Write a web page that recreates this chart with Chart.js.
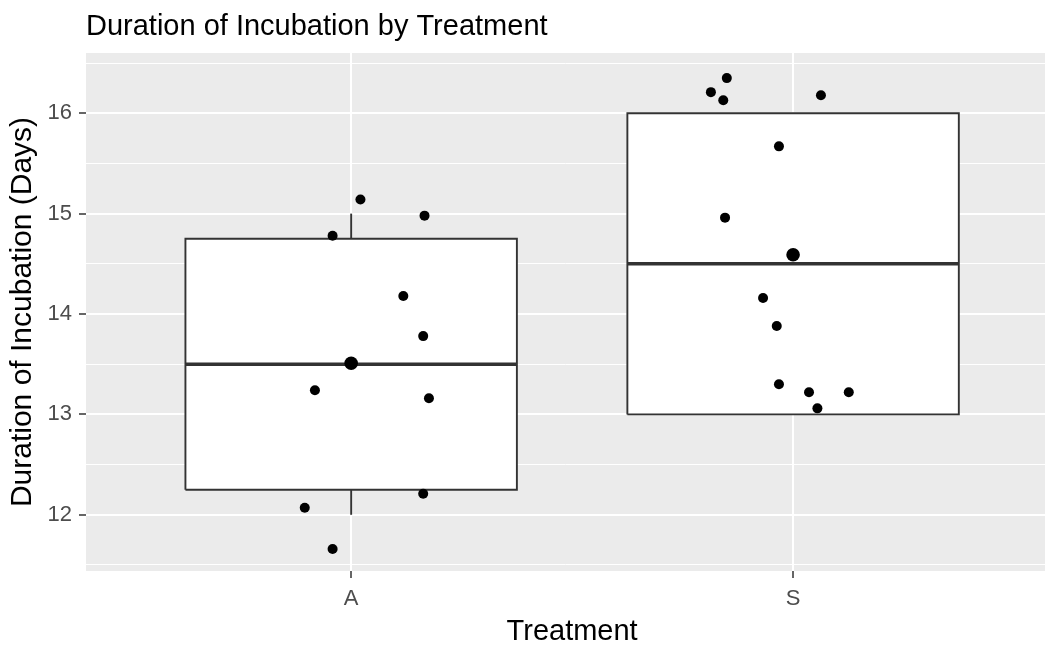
<!DOCTYPE html>
<html><head><meta charset="utf-8">
<script src="https://cdn.jsdelivr.net/npm/chart.js@4/dist/chart.umd.min.js"></script>
<style>html,body{margin:0;padding:0;background:#fff}#wrap{width:1045px;height:646px;position:relative}</style>
</head><body><div id="wrap"><canvas id="c"></canvas></div>
<script>
// ---- data ----
const chartTitle = 'Duration of Incubation by Treatment';
const xTitle = 'Treatment';
const yTitle = 'Duration of Incubation (Days)';
const categories = ['A', 'S'];
const whiskerLow  = [12, 13];
const q1          = [12.25, 13];
const medians     = [13.5, 14.5];
const q3          = [14.75, 16];
const whiskerHigh = [15, 16];
const means       = [13.51, 14.59];
const valuesA = [15.14, 14.98, 14.78, 14.18, 13.78, 13.24, 13.16, 12.21, 12.07, 11.66];
const jitterA = [0.021, 0.166, -0.042, 0.118, 0.163, -0.082, 0.176, 0.163, -0.105, -0.042];
const valuesS = [16.35, 16.21, 16.13, 16.18, 15.67, 14.96, 14.16, 13.88, 13.30, 13.22, 13.22, 13.06];
const jitterS = [-0.150, -0.186, -0.158, 0.063, -0.032, -0.154, -0.068, -0.037, -0.032, 0.036, 0.126, 0.055];
const yTicks = [12, 13, 14, 15, 16];
const yMinorTicks = [11.5, 12.5, 13.5, 14.5, 15.5, 16.5];

// ---- styling ----
const FONT = '"Liberation Sans", Arial, sans-serif';
const BOX_HALF = 0.375;
const INK = '#333333';
Chart.defaults.font.family = FONT;

const pos = i => i + 1;
const groups = [
  {values: valuesA, jitter: jitterA},
  {values: valuesS, jitter: jitterS}
];

const datasets = [];
const pts = [];
groups.forEach((g, i) => g.values.forEach((v, k) => pts.push({x: pos(i) + g.jitter[k], y: v})));
datasets.push({type: 'scatter', data: pts, backgroundColor: '#000', borderWidth: 0, pointRadius: 5, order: 0});
datasets.push({type: 'scatter', data: means.map((m, i) => ({x: pos(i), y: m})), backgroundColor: '#000', borderWidth: 0, pointRadius: 6.8, order: 0});
categories.forEach((c, i) => {
  datasets.push({type: 'line', data: [{x: pos(i) - BOX_HALF, y: medians[i]}, {x: pos(i) + BOX_HALF, y: medians[i]}],
    borderColor: INK, borderWidth: 3.6, pointRadius: 0, fill: false, order: 1});
});
categories.forEach((c, i) => {
  const l = pos(i) - BOX_HALF, r = pos(i) + BOX_HALF;
  datasets.push({type: 'line', data: [{x: l, y: q1[i]}, {x: r, y: q1[i]}, {x: r, y: q3[i]}, {x: l, y: q3[i]}, {x: l, y: q1[i]}],
    borderColor: INK, borderWidth: 1.9, backgroundColor: '#ffffff', fill: 'shape', pointRadius: 0, tension: 0, order: 2});
});
categories.forEach((c, i) => {
  if (whiskerHigh[i] > q3[i]) datasets.push({type: 'line', data: [{x: pos(i), y: q3[i]}, {x: pos(i), y: whiskerHigh[i]}],
    borderColor: INK, borderWidth: 1.9, pointRadius: 0, fill: false, order: 3});
  if (whiskerLow[i] < q1[i]) datasets.push({type: 'line', data: [{x: pos(i), y: whiskerLow[i]}, {x: pos(i), y: q1[i]}],
    borderColor: INK, borderWidth: 1.9, pointRadius: 0, fill: false, order: 3});
});

const panelBg = {
  id: 'panelBg',
  beforeDraw(chart) {
    const {ctx, chartArea: a} = chart;
    ctx.save(); ctx.fillStyle = '#EBEBEB';
    ctx.fillRect(a.left, a.top, a.right - a.left, a.bottom - a.top);
    ctx.restore();
  }
};
const titlePlugin = {
  id: 'ggTitles',
  afterDraw(chart) {
    const {ctx, chartArea: a, scales} = chart;
    ctx.save(); ctx.font = '29px ' + FONT; ctx.fillStyle = '#000';
    ctx.textBaseline = 'alphabetic'; ctx.textAlign = 'left';
    ctx.fillText(chartTitle, a.left, 35);
    // x axis title centred on the full (discrete) panel range
    ctx.textAlign = 'center';
    ctx.fillText(xTitle, scales.x.getPixelForValue((1 + categories.length) / 2), 640);
    ctx.restore();
  }
};

new Chart(document.getElementById('c'), {
  type: 'scatter',
  data: {datasets},
  plugins: [panelBg, titlePlugin],
  options: {
    responsive: true, maintainAspectRatio: false, animation: false,
    layout: {autoPadding: false, padding: {top: 53, left: 0, right: 0, bottom: 0}},
    plugins: {legend: {display: false}, tooltip: {enabled: false}},
    scales: {
      x: {
        type: 'linear', min: 0.4, max: 2.57,
        afterBuildTicks: s => { s.ticks = categories.map((c, i) => ({value: pos(i)})); },
        afterFit: s => { s.height = 75; },
        ticks: {callback: v => categories[v - 1], color: '#4D4D4D', font: {size: 22}, padding: 8, maxRotation: 0, autoSkip: false},
        grid: {color: '#ffffff', lineWidth: 2, tickColor: INK, tickLength: 7, tickWidth: 1.5},
        border: {display: false},
        title: {display: false}
      },
      y: {
        type: 'linear', min: 11.44, max: 16.60,
        afterBuildTicks: s => { s.ticks = yMinorTicks.concat(yTicks).sort((a, b) => a - b).map(v => ({value: v})); },
        afterFit: s => { s.width = 86; },
        ticks: {callback: v => (yTicks.includes(v) ? String(v) : ''), color: '#4D4D4D', font: {size: 22}, padding: 7, autoSkip: false},
        grid: {
          color: '#ffffff',
          lineWidth: c => (c.tick && yTicks.includes(c.tick.value) ? 2 : 1),
          tickColor: c => (c.tick && yTicks.includes(c.tick.value) ? INK : 'rgba(0,0,0,0)'),
          tickLength: 7, tickWidth: 1.5
        },
        border: {display: false},
        title: {display: true, text: yTitle, color: '#000', font: {size: 30}, padding: {top: 5, bottom: 0}}
      }
    }
  }
});
</script></body></html>
